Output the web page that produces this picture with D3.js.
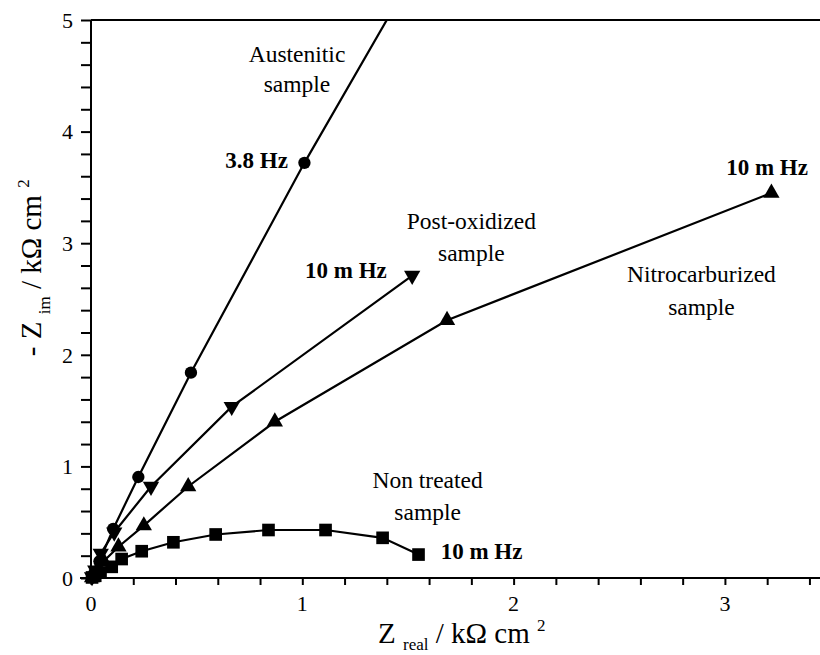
<!DOCTYPE html>
<html>
<head>
<meta charset="utf-8">
<script src="https://cdn.jsdelivr.net/npm/d3@7"></script>
<style>
	body { margin: 0; background: #fff; }
	svg { display: block; }
	svg text { font-family: "Liberation Serif", Tinos, "DejaVu Serif", "Noto Serif", serif; fill: #000; }
	.tick_label { font-size: 22px; }
	.note { font-size: 23.5px; }
	.freq { font-size: 23px; font-weight: bold; }
	.axis_title { font-size: 29px; }
</style>
</head>
<body>
<div id="chart"></div>
<script>
// impedance data, [Z real, -Z im] in kOhm cm2
const austenitic = [[0.005, 0.01], [0.015, 0.04], [0.04, 0.15], [0.105, 0.44], [0.224, 0.905],
	[0.473, 1.84], [1.01, 3.72], [1.75, 6.15]];
const post_oxidized = [[0.005, 0.01], [0.02, 0.07], [0.046, 0.22], [0.11, 0.41], [0.284, 0.82],
	[0.666, 1.535], [1.52, 2.71]];
const nitrocarburized = [[0.005, 0.005], [0.02, 0.04], [0.06, 0.15], [0.13, 0.28], [0.25, 0.47],
	[0.46, 0.82], [0.87, 1.40], [1.685, 2.31], [3.22, 3.45]];
const non_treated = [[0.005, 0.005], [0.02, 0.02], [0.045, 0.05], [0.098, 0.10], [0.145, 0.17],
	[0.24, 0.24], [0.39, 0.32], [0.59, 0.39], [0.84, 0.43], [1.11, 0.43], [1.38, 0.36], [1.55, 0.21]];

const x_ticks = [0, 1, 2, 3];
const y_ticks = [0, 1, 2, 3, 4, 5];

// text notes, anchored in data units
const notes = [
	{text: "Austenitic", x: 0.975, y: 4.62, anchor: "middle", cls: "note"},
	{text: "sample", x: 0.975, y: 4.355, anchor: "middle", cls: "note"},
	{text: "3.8 Hz", x: 0.932, y: 3.674, anchor: "end", cls: "freq"},
	{text: "Post-oxidized", x: 1.80, y: 3.127, anchor: "middle", cls: "note"},
	{text: "sample", x: 1.80, y: 2.84, anchor: "middle", cls: "note"},
	{text: "10 m Hz", x: 1.40, y: 2.688, anchor: "end", cls: "freq"},
	{text: "10 m Hz", x: 3.393, y: 3.611, anchor: "end", cls: "freq"},
	{text: "Nitrocarburized", x: 2.889, y: 2.652, anchor: "middle", cls: "note"},
	{text: "sample", x: 2.889, y: 2.357, anchor: "middle", cls: "note"},
	{text: "Non treated", x: 1.593, y: 0.806, anchor: "middle", cls: "note"},
	{text: "sample", x: 1.593, y: 0.52, anchor: "middle", cls: "note"},
	{text: "10 m Hz", x: 1.655, y: 0.170, anchor: "start", cls: "freq"}
];

class nyquist_chart {

	constructor(opts) {
		this.element = opts.element;
		this.series = opts.series;
		this.w = 820;
		this.h = 655;
		this.margin = {top: 20, right: 0, bottom: 77, left: 91};
		this.width = this.w - this.margin.left - this.margin.right;
		this.height = this.h - this.margin.top - this.margin.bottom;
		this.init();
	}

	init() {
		this.svg = d3.select(this.element).append("svg")
			.attr("width", this.w)
			.attr("height", this.h)
			.append("g")
			.attr("transform", `translate(${this.margin.left},${this.margin.top})`);

		this.create_scales();
		this.create_axes();
		this.create_shapes();
		this.create_notes();
	}

	create_scales() {
		this.x_scale = d3.scaleLinear().domain([0, 3.45]).range([0, this.width]);
		this.y_scale = d3.scaleLinear().domain([0, 5]).range([this.height, 0]);
	}

	create_axes() {
		// minor ticks every 0.2, labels on the integers only
		const x_minor = d3.range(0, 3.41, 0.2);
		const y_minor = d3.range(0, 5.01, 0.2);

		const x_axis = this.svg.append("g")
			.attr("transform", `translate(0,${this.height})`)
			.call(d3.axisBottom(this.x_scale).tickValues(x_minor).tickSize(7).tickFormat(""));
		x_axis.select(".domain").attr("d", `M-11,0H${this.width}`);

		const y_axis = this.svg.append("g")
			.call(d3.axisLeft(this.y_scale).tickValues(y_minor).tickSize(10).tickFormat(""));
		y_axis.select(".domain").attr("d", `M0,0V${this.height}`);

		[x_axis, y_axis].forEach(a => {
			a.selectAll("path, line").attr("stroke", "#000").attr("stroke-width", 2);
		});

		// top frame line
		this.svg.append("line")
			.attr("x1", 0).attr("x2", this.width)
			.attr("y1", 0).attr("y2", 0)
			.attr("stroke", "#000").attr("stroke-width", 2);

		this.svg.selectAll(".x_label")
			.data(x_ticks)
			.enter().append("text")
			.attr("class", "tick_label")
			.attr("text-anchor", "middle")
			.attr("x", d => this.x_scale(d))
			.attr("y", this.height + 33)
			.text(d => d);

		this.svg.selectAll(".y_label")
			.data(y_ticks)
			.enter().append("text")
			.attr("class", "tick_label")
			.attr("text-anchor", "end")
			.attr("x", -18)
			.attr("y", d => this.y_scale(d))
			.attr("dy", "0.35em")
			.text(d => d);

		const xt = this.svg.append("text")
			.attr("class", "axis_title")
			.attr("x", 287)
			.attr("y", this.height + 65);
		xt.append("tspan").text("Z ");
		xt.append("tspan").attr("font-size", 17).attr("dy", 7).text("real");
		xt.append("tspan").attr("dy", -7).text(" / kΩ cm ");
		xt.append("tspan").attr("font-size", 17).attr("dy", -12).text("2");

		const yt = this.svg.append("text")
			.attr("class", "axis_title")
			.attr("transform", `translate(-50,${this.y_scale(2.78)}) rotate(-90)`)
			.attr("text-anchor", "middle");
		yt.append("tspan").text("- Z ");
		yt.append("tspan").attr("font-size", 17).attr("dy", 9).text("im");
		yt.append("tspan").attr("dy", -9).text(" / kΩ cm ");
		yt.append("tspan").attr("font-size", 17).attr("dy", -12).text("2");
	}

	create_shapes() {
		this.svg.append("clipPath")
			.attr("id", "plot_area")
			.append("rect")
			.attr("x", -10).attr("y", 0)
			.attr("width", this.width + 10).attr("height", this.height + 10);

		const plot = this.svg.append("g").attr("clip-path", "url(#plot_area)");

		const line = d3.line()
			.x(d => this.x_scale(d[0]))
			.y(d => this.y_scale(d[1]));

		this.series.forEach(s => {
			plot.append("path")
				.datum(s.data)
				.attr("fill", "none")
				.attr("stroke", "#000")
				.attr("stroke-width", 2.2)
				.attr("d", line);

			plot.selectAll(null)
				.data(s.data)
				.enter().append("path")
				.attr("d", d3.symbol().type(s.symbol).size(s.size))
				.attr("transform", d => `translate(${this.x_scale(d[0])},${this.y_scale(d[1])}) rotate(${s.rotate})`)
				.attr("fill", "#000");
		});
	}

	create_notes() {
		this.svg.selectAll(".note_text")
			.data(notes)
			.enter().append("text")
			.attr("class", d => d.cls)
			.attr("text-anchor", d => d.anchor)
			.attr("x", d => this.x_scale(d.x))
			.attr("y", d => this.y_scale(d.y))
			.text(d => d.text);
	}
}

const chart = new nyquist_chart({
	element: "#chart",
	series: [
		{data: non_treated, symbol: d3.symbolSquare, size: 160, rotate: 0},
		{data: nitrocarburized, symbol: d3.symbolTriangle, size: 115, rotate: 0},
		{data: post_oxidized, symbol: d3.symbolTriangle, size: 115, rotate: 180},
		{data: austenitic, symbol: d3.symbolCircle, size: 120, rotate: 0}
	]
});
</script>
</body>
</html>
